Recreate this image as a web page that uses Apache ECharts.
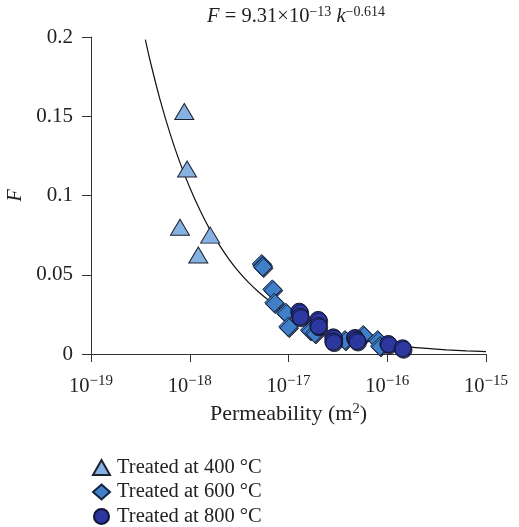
<!DOCTYPE html>
<html><head><meta charset="utf-8">
<script src="https://cdn.jsdelivr.net/npm/echarts@6/dist/echarts.min.js"></script>
<style>html,body{margin:0;padding:0;background:#fff}#c{width:519px;height:527px}</style>
</head><body><div id="c"></div>
<script>
// Data
const tri400K = [8.8e-19, 9.4e-19, 7.96e-19, 1.61e-18, 1.22e-18];
const tri400F = [0.153, 0.1167, 0.080, 0.075, 0.0625];
const dia600K = [5.36e-18, 5.48e-18, 6.86e-18, 7.18e-18, 9.37e-18, 9.95e-18, 1.65e-17, 1.85e-17, 3.73e-17, 5.71e-17, 8.0e-17, 8.45e-17];
const dia600F = [0.0568, 0.0551, 0.0408, 0.0324, 0.0261, 0.0172, 0.0151, 0.0132, 0.0088, 0.0120, 0.0088, 0.0050];
const cir800K = [1.285e-17, 1.31e-17, 2.0e-17, 2.0e-17, 2.84e-17, 2.84e-17, 4.71e-17, 4.94e-17, 1.026e-16, 1.43e-16];
const cir800F = [0.0267, 0.0235, 0.0215, 0.0177, 0.0105, 0.0078, 0.0101, 0.0082, 0.0063, 0.0036];
// fitted curve
const curveK = [3.55e-19, 3.98e-19, 5.01e-19, 6.31e-19, 7.94e-19, 1e-18, 1.26e-18, 1.58e-18, 2.0e-18, 2.51e-18, 3.16e-18, 3.98e-18, 5.01e-18, 6.31e-18, 7.94e-18, 1e-17, 1.58e-17, 2.51e-17, 3.98e-17, 6.31e-17, 1e-16, 1.58e-16, 2.51e-16, 3.98e-16, 6.31e-16, 1e-15];
const curveF = [0.1983, 0.1847, 0.1603, 0.1392, 0.1209, 0.1050, 0.0911, 0.0791, 0.0687, 0.0596, 0.0517, 0.0449, 0.0390, 0.0339, 0.0294, 0.0255, 0.0192, 0.0145, 0.0109, 0.00823, 0.00621, 0.00468, 0.00353, 0.00266, 0.00200, 0.00151];
const legendNames = ['Treated at 400 °C', 'Treated at 600 °C', 'Treated at 800 °C'];

const FONT = '"Liberation Serif", "DejaVu Serif", serif';
const zip = (a, b) => a.map((v, i) => [v, b[i]]);
const supStyle = {fontFamily: FONT, fontSize: 14.5, color: '#222', padding: [0, 0, 10, 0]};

const chart = echarts.init(document.getElementById('c'), null, {renderer: 'canvas'});
chart.setOption({
  animation: false,
  backgroundColor: '#fff',
  title: {
    text: '{i|F} = 9.31×10{s|−13} {i|k}{s|−0.614}',
    left: 291, top: 0, textAlign: 'center',
    textStyle: {
      fontFamily: FONT, fontSize: 20.5, fontWeight: 'normal', color: '#222',
      rich: {
        i: {fontFamily: FONT, fontSize: 20.5, fontStyle: 'italic', color: '#222'},
        s: {fontFamily: FONT, fontSize: 14, color: '#222', padding: [0, 0, 10, 0]}
      }
    }
  },
  grid: {left: 91, right: 33, top: 37, bottom: 173, containLabel: false, outerBoundsMode: 'none'},
  legend: {
    orient: 'vertical', left: 87, top: 452, height: 80,
    itemWidth: 17, itemHeight: 15, itemGap: 3.5,
    textStyle: {fontFamily: FONT, fontSize: 20.5, color: '#222', padding: [0, 0, 0, 2]},
    data: [
      {name: legendNames[0], icon: 'triangle'},
      {name: legendNames[1], icon: 'diamond'},
      {name: legendNames[2], icon: 'circle'}
    ]
  },
  xAxis: {
    type: 'log', logBase: 10, min: 1e-19, max: 1e-15,
    name: 'Permeability (m{s|2})', nameLocation: 'middle', nameGap: 48,
    nameTextStyle: {fontFamily: FONT, fontSize: 22, color: '#222', rich: {s: supStyle}},
    axisLine: {show: true, lineStyle: {color: '#333', width: 1}},
    axisTick: {show: true, inside: false, length: 8, lineStyle: {color: '#333'}},
    minorTick: {show: false},
    splitLine: {show: false},
    axisLabel: {
      margin: 20, color: '#222', fontFamily: FONT, fontSize: 20.5,
      formatter: v => '10{s|−' + Math.round(-Math.log10(v)) + '}',
      rich: {s: {fontFamily: FONT, fontSize: 15, color: '#222', padding: [0, 0, 10, 0]}}
    }
  },
  yAxis: {
    type: 'value', min: 0, max: 0.2, interval: 0.05,
    name: 'F', nameLocation: 'middle', nameGap: 61, nameRotate: 90,
    nameTextStyle: {fontFamily: FONT, fontSize: 20, fontStyle: 'italic', color: '#222'},
    axisLine: {show: true, lineStyle: {color: '#333', width: 1}},
    axisTick: {show: true, inside: false, length: 9, lineStyle: {color: '#333'}},
    splitLine: {show: false},
    axisLabel: {margin: 18, color: '#222', fontFamily: FONT, fontSize: 21}
  },
  series: [
    {
      name: 'fit', type: 'line', data: zip(curveK, curveF), showSymbol: false, symbol: 'none',
      smooth: 0.3, lineStyle: {color: '#111', width: 1.2}, z: 1, silent: true
    },
    {
      name: legendNames[0], type: 'scatter', data: zip(tri400K, tri400F),
      symbol: 'triangle', symbolSize: [19, 16], z: 3,
      itemStyle: {color: '#86b1e0', borderColor: '#1d2230', borderWidth: 1, opacity: 1}
    },
    {
      name: legendNames[1], type: 'scatter', data: zip(dia600K, dia600F),
      symbol: 'diamond', symbolSize: [19, 19], z: 4,
      itemStyle: {color: '#4080c8', borderColor: '#15203a', borderWidth: 1, opacity: 1,
        shadowColor: 'rgba(20,30,60,0.8)', shadowOffsetX: 1, shadowOffsetY: 1.5, shadowBlur: 0}
    },
    {
      name: legendNames[2], type: 'scatter', data: zip(cir800K, cir800F),
      symbol: 'circle', symbolSize: 17, z: 5,
      itemStyle: {color: '#2c37a0', borderColor: '#121530', borderWidth: 1, opacity: 1,
        shadowColor: 'rgba(15,20,50,0.8)', shadowOffsetX: 1, shadowOffsetY: 1.5, shadowBlur: 0}
    }
  ]
});
</script>
</body></html>
